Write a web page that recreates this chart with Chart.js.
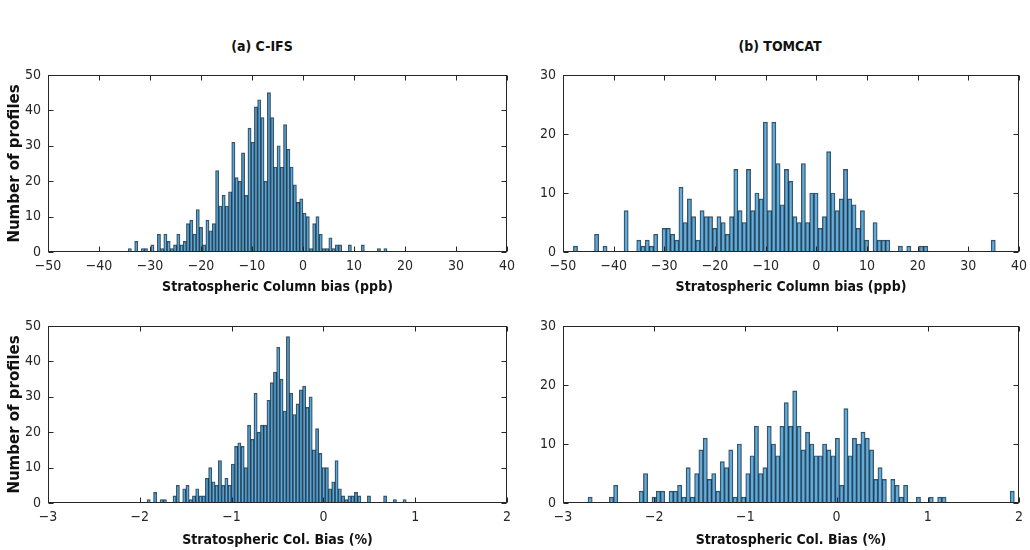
<!DOCTYPE html>
<html>
<head>
<meta charset="utf-8">
<script src="https://cdn.jsdelivr.net/npm/chart.js@4.4.1/dist/chart.umd.min.js"></script>
<style>
  body { margin: 0; background: #fff; }
  #wrap { position: relative; width: 1030px; height: 550px; overflow: hidden; }
  canvas { position: absolute; }
  .ttl { position: absolute; top: 38px; transform: translateX(-50%); white-space: nowrap;
         font: bold 14px 'Liberation Sans Narrow', 'DejaVu Sans Condensed', sans-serif; color: #111; }
</style>
</head>
<body>
<div id="wrap">
  <div class="ttl" style="left:262px">(a) C-IFS</div>
  <div class="ttl" style="left:780px">(b) TOMCAT</div>
  <canvas id="cTL" width="515" height="250" style="left:0;top:60px"></canvas>
  <canvas id="cTR" width="515" height="250" style="left:515px;top:60px"></canvas>
  <canvas id="cBL" width="515" height="240" style="left:0;top:310px"></canvas>
  <canvas id="cBR" width="515" height="240" style="left:515px;top:310px"></canvas>
</div>
<script>
// histogram counts, one value per bin (left to right)
// (a) C-IFS, column bias (ppb): 80 bins
const cifsPpbStart = -34.28, cifsPpbWidth = 0.6345;
const cifsPpb = [
  1,0,3,0,1,1,0,2,0,5, 1,5,3,1,2,5,2,3,8,9,
  5,12,7,2,9,6,8,23,13,16, 13,17,31,21,20,28,16,35,31,41,
  43,38,20,45,38,24,30,24,36,29, 24,19,14,15,11,10,1,8,10,5,
  1,1,4,1,2,2,0,0,2,0, 0,0,2,0,0,0,0,1,0,1
];
// (b) TOMCAT, column bias (ppb): 100 bins
const tomcatPpbStart = -47.95, tomcatPpbWidth = 0.8328;
const tomcatPpb = [
  1,0,0,0,0,3,0,1,0,0, 0,0,7,0,0,2,1,2,1,3,
  0,4,4,3,2,11,5,9,6,2, 7,6,6,4,6,5,3,6,14,7,
  5,14,7,10,9,22,7,22,15,8, 14,12,6,5,15,5,10,10,4,6,
  17,10,7,9,14,9,8,4,7,2, 0,5,2,2,2,0,0,1,0,1,
  0,0,1,1,0,0,0,0,0,0, 0,0,0,0,0,0,0,0,0,2
];
// (a) C-IFS, column bias (%): 80 bins
const cifsPctStart = -1.921, cifsPctWidth = 0.03529;
const cifsPct = [
  1,0,3,0,1,1,0,0,2,5, 0,4,5,1,2,4,2,2,7,10,
  6,5,12,5,7,5,11,16,17,16, 10,22,18,31,20,22,22,29,34,37,
  44,35,26,47,31,25,28,32,33,27, 30,15,21,14,10,10,4,6,12,4,
  2,1,2,2,3,2,0,0,2,0, 0,0,0,2,0,0,1,0,0,1
];
// (b) TOMCAT, column bias (%): 100 bins
const tomcatPctStart = -2.726, tomcatPctWidth = 0.04675;
const tomcatPct = [
  1,0,0,0,0,1,3,0,0,0, 0,0,2,5,0,1,2,2,0,2,
  2,3,1,6,1,5,9,11,4,5, 2,7,6,9,1,10,1,5,8,13,
  5,6,13,10,8,13,17,13,19,13, 9,12,10,8,8,10,9,8,11,3,
  16,8,11,10,12,11,9,4,6,4, 0,4,3,1,3,0,0,1,0,0,
  1,0,1,1,0,0,0,0,0,0, 0,0,0,0,0,0,0,0,0,2
];

const ppbTitle = 'Stratospheric Column bias (ppb)';
const pctTitle = 'Stratospheric Col. Bias (%)';
const yTitle = 'Number of profiles';

const NARROW = "'Liberation Sans Narrow', 'DejaVu Sans Condensed', sans-serif";
const TXT = '#262626';

// MATLAB style box with inward ticks on all four sides
const boxTicks = {
  id: 'boxTicks',
  afterDraw(chart) {
    const { ctx, chartArea: a, scales: { x, y } } = chart;
    const L = Math.round(a.left) + 0.5, R = Math.round(a.right) - 0.5;
    const T = Math.round(a.top) + 0.5, B = Math.round(a.bottom) - 0.5;
    ctx.save();
    ctx.strokeStyle = TXT; ctx.lineWidth = 1;
    ctx.strokeRect(L, T, R - L, B - T);
    ctx.beginPath();
    x.ticks.forEach(t => {
      const px = Math.round(x.getPixelForValue(t.value)) + 0.5;
      ctx.moveTo(px, B); ctx.lineTo(px, B - 5);
      ctx.moveTo(px, T); ctx.lineTo(px, T + 5);
    });
    y.ticks.forEach(t => {
      const py = Math.round(y.getPixelForValue(t.value)) + 0.5;
      ctx.moveTo(L, py); ctx.lineTo(L + 5, py);
      ctx.moveTo(R, py); ctx.lineTo(R - 5, py);
    });
    ctx.stroke();
    ctx.restore();
  }
};

function minus(v) { return v < 0 ? '\u2212' + Math.abs(v) : String(v); }

function makeHist(id, counts, start, width, o) {
  const pts = counts.map((c, i) => ({ x: start + (i + 0.5) * width, y: c }));
  new Chart(document.getElementById(id), {
    type: 'bar',
    data: { datasets: [{
      data: pts,
      backgroundColor: 'rgba(0,114,189,0.6)',
      borderColor: 'rgba(0,0,0,0.7)',
      borderWidth: 0.7,
      barPercentage: 1, categoryPercentage: 1
    }]},
    options: {
      responsive: false, animation: false,
      layout: { padding: { top: o.padTop, right: o.padRight, left: 0, bottom: 0 } },
      plugins: { legend: { display: false }, tooltip: { enabled: false } },
      scales: {
        x: {
          type: 'linear', min: o.xMin, max: o.xMax, offset: false,
          grid: { display: false, drawTicks: false }, border: { display: false },
          ticks: { stepSize: o.xStep, padding: 6, maxRotation: 0, autoSkip: false,
                   color: TXT, font: { family: NARROW, size: 14 }, callback: minus },
          title: { display: true, text: o.xTitle, color: '#111',
                   font: { family: NARROW, size: 14, weight: 'bold' },
                   padding: { top: 0, bottom: o.titlePad } },
          afterFit: s => { s.height = o.xHeight; s.paddingLeft = 0; s.paddingRight = 0; }
        },
        y: {
          min: 0, max: o.yMax,
          grid: { display: false, drawTicks: false }, border: { display: false },
          ticks: { stepSize: 10, padding: 7, color: TXT, font: { family: NARROW, size: 14 } },
          title: { display: !!o.yTitle, text: o.yTitle || '', color: '#111',
                   font: { family: 'DejaVu Sans', size: 15, weight: 'bold' },
                   padding: { top: 6, bottom: 0 } },
          afterFit: s => { s.width = 48; s.paddingTop = 0; s.paddingBottom = 0; }
        }
      }
    },
    plugins: [boxTicks]
  });
}

makeHist('cTL', cifsPpb, cifsPpbStart, cifsPpbWidth, {
  xMin: -50, xMax: 40, xStep: 10, yMax: 50, xTitle: ppbTitle, yTitle: yTitle,
  padTop: 15, padRight: 8, xHeight: 58, titlePad: 14
});
makeHist('cTR', tomcatPpb, tomcatPpbStart, tomcatPpbWidth, {
  xMin: -50, xMax: 40, xStep: 10, yMax: 30, xTitle: ppbTitle,
  padTop: 15, padRight: 11, xHeight: 58, titlePad: 14
});
makeHist('cBL', cifsPct, cifsPctStart, cifsPctWidth, {
  xMin: -3, xMax: 2, xStep: 1, yMax: 50, xTitle: pctTitle, yTitle: yTitle,
  padTop: 16, padRight: 8, xHeight: 47, titlePad: 1
});
makeHist('cBR', tomcatPct, tomcatPctStart, tomcatPctWidth, {
  xMin: -3, xMax: 2, xStep: 1, yMax: 30, xTitle: pctTitle,
  padTop: 16, padRight: 11, xHeight: 47, titlePad: 1
});
</script>
</body>
</html>
